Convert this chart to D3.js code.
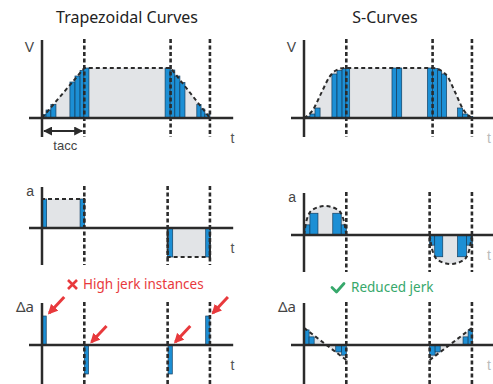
<!DOCTYPE html>
<html>
<head>
<meta charset="utf-8">
<script src="https://cdn.jsdelivr.net/npm/d3@7/dist/d3.min.js"></script>
<style>
  body { margin: 0; background: #fff; }
  svg { display: block; }
</style>
</head>
<body>
<svg id="chart" width="493" height="384"></svg>
<script>
// phase boundaries in time units (top row is drawn a bit wider than the two lower rows)
const phaseTop = [0, 1, 3.04, 3.97];
const phaseLow = [0, 1, 2.97, 3.97];

// outlines [t, value]
const trapV = [[0, 0], [1, 1], [3.04, 1], [3.97, 0]];
const sV = [[0, 0], [0.2, 0.15], [0.42, 0.52], [0.6, 0.82], [0.75, 0.95], [0.95, 1], [3.04, 1],
            [3.24, 0.95], [3.4, 0.82], [3.57, 0.52], [3.78, 0.15], [3.97, 0]];
const trapAPos = [[0, 0], [0, 1], [1, 1], [1, 0]];
const trapANeg = [[2.97, 0], [2.97, -1], [3.97, -1], [3.97, 0]];
const sAPos = [[0, 0], [0.06, 0.5], [0.2, 0.87], [0.5, 1], [0.8, 0.87], [0.94, 0.5], [1, 0]];
const sANeg = [[2.97, 0], [3.03, -0.5], [3.17, -0.87], [3.47, -1], [3.77, -0.87], [3.91, -0.5], [3.97, 0]];
const sJLeft = [[0, 0.59], [1, -0.52]];
const sJRight = [[2.97, -0.52], [3.97, 0.59]];

// sampled bars [t0, t1, value]
const trapVBars = [[0, 0.095, 0.07], [0.095, 0.21, 0.16], [0.21, 0.33, 0.27],
                   [0.66, 0.78, 0.72], [0.78, 0.9, 0.84], [0.9, 0.99, 0.95], [0.99, 1.11, 1],
                   [2.91, 3.03, 1], [3.03, 3.14, 0.96], [3.14, 3.26, 0.84], [3.26, 3.38, 0.71],
                   [3.66, 3.76, 0.27], [3.76, 3.85, 0.18], [3.85, 3.97, 0.08]];
const sVBars = [[0.02, 0.14, 0.03], [0.14, 0.26, 0.08], [0.26, 0.38, 0.2],
                [0.66, 0.78, 0.88], [0.78, 0.9, 0.95], [0.9, 0.99, 0.99], [0.99, 1.08, 1],
                [2.08, 2.19, 1], [2.19, 2.31, 1],
                [2.92, 3.04, 1], [3.04, 3.16, 0.99], [3.16, 3.25, 0.95], [3.25, 3.37, 0.88],
                [3.63, 3.75, 0.2], [3.75, 3.87, 0.08], [3.87, 3.99, 0.03]];
const trapABars = [[0, 0.11, 1], [0.9, 1.01, 1], [2.97, 3.09, -1], [3.87, 3.98, -1]];
const sABars = [[0.02, 0.14, 0.35], [0.14, 0.33, 0.75], [0.68, 0.88, 0.75], [0.88, 1.0, 0.35],
                [2.97, 3.09, -0.35], [3.09, 3.28, -0.75], [3.63, 3.84, -0.75], [3.84, 3.98, -0.35]];
const trapJBars = [[0, 0.1, 1], [1, 1.1, -1], [2.98, 3.08, -1], [3.87, 3.97, 1]];
const sJBars = [[0, 0.12, 0.52], [0.12, 0.24, 0.28], [0.75, 0.89, -0.24], [0.89, 1.0, -0.35],
                [2.97, 3.1, -0.35], [3.1, 3.22, -0.24], [3.76, 3.88, 0.28], [3.88, 3.98, 0.52]];

const titles = ["Trapezoidal Curves", "S-Curves"];
const notes = ["High jerk instances", "Reduced jerk"];

const BLUE = "#1c8fd5", EDGE = "#143f60", GREY = "#e2e4e7", INK = "#2b2b2b";
const RED = "#e8393c", GREEN = "#36a86b";

const svg = d3.select("#chart");
const colX = [42, 304];
const unitT = 42.3;

const panels = [
  { col: 0, base: 118, unit: 50, top: 40, bottom: 137, phases: phaseTop, label: "V", lab: "sans",
    shapes: [trapV], curve: d3.curveLinear, bars: trapVBars },
  { col: 1, base: 118, unit: 50, top: 40, bottom: 137, phases: phaseTop, label: "V", lab: "sans",
    shapes: [sV], curve: d3.curveMonotoneX, bars: sVBars },
  { col: 0, base: 228, unit: 29, top: 187, bottom: 265, phases: phaseLow, label: "a", lab: "sans",
    shapes: [trapAPos, trapANeg], curve: d3.curveLinear, bars: trapABars },
  { col: 1, base: 235, unit: 29, top: 193, bottom: 272, phases: phaseLow, label: "a", lab: "sans",
    shapes: [sAPos, sANeg], curve: d3.curveMonotoneX, bars: sABars },
  { col: 0, base: 345, unit: 29, top: 303, bottom: 392, phases: phaseLow, label: "\u0394a", lab: "noto",
    shapes: [], curve: d3.curveLinear, bars: trapJBars },
  { col: 1, base: 345, unit: 29, top: 303, bottom: 392, phases: phaseLow, label: "\u0394a", lab: "noto",
    shapes: [sJLeft, sJRight], curve: d3.curveLinear, bars: sJBars }
];

panels.forEach(p => {
  const x0 = colX[p.col];
  const x = d3.scaleLinear().domain([0, 1]).range([x0, x0 + unitT]);
  const y = d3.scaleLinear().domain([0, 1]).range([p.base, p.base - p.unit]);
  const g = svg.append("g");

  const area = d3.area().x(d => x(d[0])).y0(y(0)).y1(d => y(d[1])).curve(p.curve);
  const line = d3.line().x(d => x(d[0])).y(d => y(d[1])).curve(p.curve);

  g.selectAll("path.fill").data(p.shapes).join("path")
    .attr("class", "fill")
    .attr("d", area)
    .attr("fill", GREY);

  g.selectAll("rect").data(p.bars).join("rect")
    .attr("x", d => x(d[0]))
    .attr("width", d => x(d[1]) - x(d[0]))
    .attr("y", d => Math.min(y(d[2]), y(0)))
    .attr("height", d => Math.abs(y(d[2]) - y(0)))
    .attr("fill", BLUE)
    .attr("stroke", EDGE)
    .attr("stroke-width", 0.7);

  g.selectAll("path.outline").data(p.shapes).join("path")
    .attr("class", "outline")
    .attr("d", line)
    .attr("fill", "none")
    .attr("stroke", INK)
    .attr("stroke-width", 2)
    .attr("stroke-dasharray", "4,3");

  // axes
  g.append("line")
    .attr("x1", x0 - 13).attr("x2", x(4.52))
    .attr("y1", y(0)).attr("y2", y(0))
    .attr("stroke", INK).attr("stroke-width", 2.5);
  g.append("line")
    .attr("x1", x0).attr("x2", x0)
    .attr("y1", p.top).attr("y2", p.bottom)
    .attr("stroke", INK).attr("stroke-width", 2.5);

  // phase markers
  g.selectAll("line.phase").data(p.phases.slice(1)).join("line")
    .attr("class", "phase")
    .attr("x1", d => x(d)).attr("x2", d => x(d))
    .attr("y1", p.top - 1).attr("y2", p.bottom)
    .attr("stroke", INK)
    .attr("stroke-width", 2.6)
    .attr("stroke-dasharray", "4,2.5");

  g.append("text")
    .attr("x", x0 - 8)
    .attr("y", p.top + (p.label === "V" ? 12 : 9))
    .attr("text-anchor", "end")
    .attr("font-family", p.lab === "sans" ? "Liberation Sans, Arial, sans-serif" : "Noto Sans, sans-serif")
    .attr("font-size", p.lab === "sans" ? 14 : 15)
    .attr("fill", "#444")
    .text(p.label);

  // time label; the right column's one sits against the page edge
  g.append("text")
    .attr("x", Math.min(x(4.5), 489))
    .attr("y", p.base + 25)
    .attr("text-anchor", "middle")
    .attr("font-family", "Liberation Sans, Arial, sans-serif")
    .attr("font-size", 14)
    .attr("fill", p.col === 0 ? "#555" : "#bbb")
    .text("t");

  p.x = x; p.y = y;
});

// titles
svg.selectAll("text.title").data(titles).join("text")
  .attr("class", "title")
  .attr("x", (d, i) => [127, 385][i])
  .attr("y", 23)
  .attr("text-anchor", "middle")
  .attr("font-family", "Noto Sans, sans-serif")
  .attr("font-size", 16)
  .attr("fill", "#222")
  .text(d => d);

// tacc span arrow
const vx = panels[0].x;
const defs = svg.append("defs");
defs.append("marker").attr("id", "head").attr("viewBox", "0 0 10 10")
  .attr("refX", 9).attr("refY", 5).attr("markerWidth", 4.5).attr("markerHeight", 4.5)
  .attr("orient", "auto-start-reverse").attr("markerUnits", "strokeWidth")
  .append("path").attr("d", "M0,0L10,5L0,10z").attr("fill", INK);
svg.append("line")
  .attr("x1", vx(0) + 2).attr("x2", vx(1) - 2)
  .attr("y1", 131).attr("y2", 131)
  .attr("stroke", INK).attr("stroke-width", 2)
  .attr("marker-start", "url(#head)").attr("marker-end", "url(#head)");
svg.append("text")
  .attr("x", vx(0.55)).attr("y", 150)
  .attr("text-anchor", "middle")
  .attr("font-family", "Liberation Sans, Arial, sans-serif")
  .attr("font-size", 13)
  .attr("fill", "#444")
  .text("tacc");

// red arrows pointing at jerk spikes
const jp = panels[4];
defs.append("marker").attr("id", "redhead").attr("viewBox", "0 0 10 10")
  .attr("refX", 8).attr("refY", 5).attr("markerWidth", 3.3).attr("markerHeight", 3.3)
  .attr("orient", "auto").attr("markerUnits", "strokeWidth")
  .append("path").attr("d", "M0,0L10,5L0,10z").attr("fill", RED);
svg.selectAll("line.jerk").data(trapJBars).join("line")
  .attr("class", "jerk")
  .attr("x1", d => jp.x(d[1]) + 18)
  .attr("y1", d => (d[2] > 0 ? jp.y(d[2]) : jp.y(0)) - 19)
  .attr("x2", d => jp.x(d[1]) + 3)
  .attr("y2", d => (d[2] > 0 ? jp.y(d[2]) : jp.y(0)) - 3)
  .attr("stroke", RED).attr("stroke-width", 3)
  .attr("marker-end", "url(#redhead)");

// notes
svg.append("path")
  .attr("d", "M68,280L77,289M77,280L68,289")
  .attr("stroke", RED).attr("stroke-width", 2.6).attr("fill", "none");
svg.append("path")
  .attr("d", "M332,287.5L336.5,292L344,283.5")
  .attr("stroke", GREEN).attr("stroke-width", 2.8).attr("fill", "none")
  .attr("stroke-linecap", "round").attr("stroke-linejoin", "round");
svg.selectAll("text.note").data(notes).join("text")
  .attr("class", "note")
  .attr("x", (d, i) => [83, 351][i])
  .attr("y", (d, i) => [289, 292][i])
  .attr("font-family", "Noto Sans, sans-serif")
  .attr("font-size", 13.5)
  .attr("fill", (d, i) => [RED, GREEN][i])
  .text(d => d);
</script>
</body>
</html>
